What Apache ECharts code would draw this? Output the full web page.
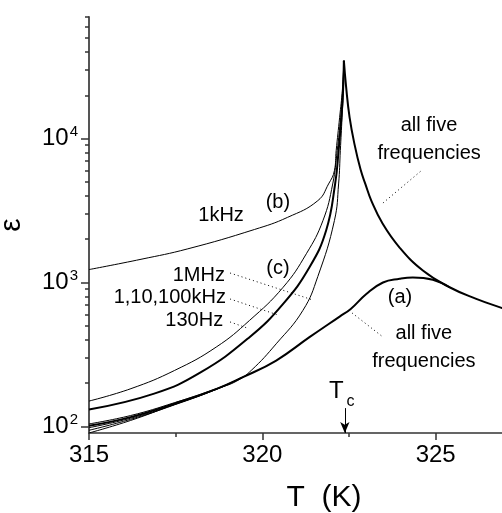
<!DOCTYPE html>
<html>
<head>
<meta charset="utf-8">
<script src="https://cdn.jsdelivr.net/npm/echarts@6/dist/echarts.min.js"></script>
<style>
  html, body { margin: 0; padding: 0; background: #fff; }
  #chart { width: 502px; height: 513px; }
</style>
</head>
<body>
<div id="chart"></div>
<script>
// (a) rising curve, all five frequencies on top of each other
const aTemp = [315, 316.2, 317.46, 318.7, 319.44, 320.4, 321.36, 322.23, 322.55, 323.0, 323.48, 323.96, 324.34, 324.92, 325.4];
const aEps = [101, 116, 144, 183, 220, 287, 417, 580, 655, 832, 1000, 1062, 1085, 1045, 927];
// the (a) strands that split apart at low temperature
const aLowTemp = [315, 316.2, 317.46, 318.7, 319.44];
const aLow1 = [104, 119, 146, 184, 220];
const aLow2 = [98, 114, 142, 182, 220];
const aLow3 = [94, 112, 141, 182, 220];

// (b) 1kHz
const bTemp = [315, 316.5, 317.85, 319.77, 320.73, 321.6, 321.91, 322.08, 322.13, 322.23, 322.31, 322.352];
const bEps = [1230, 1450, 1714, 2335, 2838, 3705, 4840, 6000, 8260, 14060, 22000, 34800];

// (c) 1MHz, 1,10,100kHz, 130Hz
const c1MHzTemp = [315, 316.21, 317.47, 318.67, 319.63, 320.6, 321.27, 321.75, 322.03, 322.16, 322.26, 322.32, 322.352];
const c1MHzEps = [150, 183, 245, 356, 545, 927, 1585, 2700, 4840, 8260, 14060, 22000, 34800];
const cKHzTemp = [315, 316.88, 318.23, 319.63, 320.6, 321.36, 321.84, 322.1, 322.2, 322.28, 322.33, 322.352];
const cKHzEps = [131, 169, 238, 417, 711, 1277, 2297, 4840, 8260, 14060, 22000, 34800];
const c130Temp = [315, 316.2, 317.46, 318.7, 319.25, 319.68, 320.4, 321.17, 321.6, 322.08, 322.2, 322.25, 322.3, 322.34, 322.352];
const c130Eps = [90, 110, 142, 183, 206, 245, 375, 640, 1100, 2700, 4840, 8260, 14060, 22000, 34800];

// above Tc: all five frequencies
const downTemp = [322.352, 322.416, 322.517, 322.661, 322.834, 322.978, 323.143, 323.468, 323.959, 324.631, 325.401, 326.171, 326.9, 327];
const downEps = [34800, 22970, 14060, 9085, 6090, 4793, 3710, 2569, 1750, 1211, 927, 770, 667, 655];

const yMajor = [100, 1000, 10000];
const yMinor = [200, 300, 400, 500, 600, 700, 800, 900,
  2000, 3000, 4000, 5000, 6000, 7000, 8000, 9000,
  20000, 30000, 40000, 50000, 60000, 70000];
const tc = 322.38;

// annotation anchors in data space [T, eps]
const notes = [
  { text: 'all five\nfrequencies', at: [324.81, 9935], align: 'center' },
  { text: '(b)', at: [320.45, 3626], align: 'center' },
  { text: '1kHz', at: [318.81, 2945], align: 'center' },
  { text: '(c)', at: [320.45, 1261], align: 'center' },
  { text: '1MHz', at: [318.92, 1128], align: 'right' },
  { text: '1,10,100kHz', at: [318.95, 781], align: 'right' },
  { text: '130Hz', at: [318.87, 549], align: 'right' },
  { text: '(a)', at: [323.97, 793], align: 'center' },
  { text: 'all five\nfrequencies', at: [324.66, 356], align: 'center' }
];
const leaders = [
  [[323.48, 3568], [324.61, 6052]],
  [[319.07, 1164], [321.46, 756]],
  [[319.07, 768], [320.45, 595]],
  [[319.07, 532], [319.56, 483]],
  [[322.59, 614], [323.48, 418]]
];

const FONT = '"Liberation Sans", Arial, Helvetica, sans-serif';
const zip = (t, v) => t.map((x, i) => [x, v[i]]);

function curve(name, t, v, width) {
  return {
    name: name,
    type: 'line',
    data: zip(t, v),
    showSymbol: false,
    smooth: 0.45,
    lineStyle: { color: '#000', width: width },
    silent: true,
    z: 3
  };
}

const chart = echarts.init(document.getElementById('chart'));

const series = [
  curve('(a)', aTemp, aEps, 2),
  curve('(a) strand 1', aLowTemp, aLow1, 1),
  curve('(a) strand 2', aLowTemp, aLow2, 1),
  curve('(a) strand 3', aLowTemp, aLow3, 1),
  curve('(b) 1kHz', bTemp, bEps, 1),
  curve('(c) 1MHz', c1MHzTemp, c1MHzEps, 1),
  curve('(c) 1,10,100kHz', cKHzTemp, cKHzEps, 2),
  curve('(c) 130Hz', c130Temp, c130Eps, 1),
  curve('above Tc', downTemp, downEps, 2)
];

// dotted leaders and the Tc arrow
series[series.length - 1].markLine = {
  silent: true,
  symbol: ['none', 'none'],
  label: { show: false },
  lineStyle: { color: '#000', width: 1, type: [1, 3] },
  data: leaders.map(p => [{ coord: p[0] }, { coord: p[1] }]).concat([[
    { coord: [tc, 134], symbol: 'none', lineStyle: { type: 'solid', width: 1 } },
    { coord: [tc, 90], symbol: 'arrow', symbolSize: [7, 11] }
  ]])
};

chart.setOption({
  animation: false,
  backgroundColor: '#fff',
  grid: { left: 89, right: -3, top: 17, bottom: 80, outerBoundsMode: 'none' },
  xAxis: {
    type: 'value',
    min: 315,
    max: 327,
    interval: 5,
    name: 'T  (K)',
    nameLocation: 'middle',
    nameGap: 50,
    nameTextStyle: { fontFamily: FONT, fontSize: 30, color: '#000', padding: [0, 0, 0, 54] },
    axisLine: { lineStyle: { color: '#333', width: 1.5 } },
    axisTick: { length: 7, lineStyle: { color: '#333', width: 1.5 } },
    minorTick: { show: true, splitNumber: 2, length: 4, lineStyle: { color: '#333', width: 1.5 } },
    axisLabel: { fontFamily: FONT, fontSize: 24, color: '#000', margin: 10, showMaxLabel: false },
    splitLine: { show: false }
  },
  yAxis: [{
    type: 'log',
    min: 90,
    max: 70000,
    name: 'ε',
    nameLocation: 'middle',
    nameGap: 62,
    nameTextStyle: { fontFamily: FONT, fontSize: 30, color: '#000' },
    axisLine: { lineStyle: { color: '#555', width: 2 } },
    axisTick: { length: 8, customValues: yMajor, lineStyle: { color: '#333', width: 1.5 } },
    axisLabel: {
      customValues: yMajor,
      margin: 11,
      formatter: v => '{b|10}{s|' + Math.round(Math.log10(v)) + '}',
      rich: {
        b: { fontFamily: FONT, fontSize: 24, color: '#000' },
        s: { fontFamily: FONT, fontSize: 15, color: '#000', padding: [0, 0, 14, 1] }
      }
    },
    splitLine: { show: false }
  }, {
    type: 'log',
    min: 90,
    max: 70000,
    position: 'left',
    axisLine: { show: false },
    axisTick: { length: 4, customValues: yMinor, lineStyle: { color: '#333', width: 1.5 } },
    axisLabel: { show: false },
    splitLine: { show: false }
  }],
  series: series
});

// text annotations placed from data coordinates
const px = p => chart.convertToPixel({ xAxisIndex: 0, yAxisIndex: 0 }, p);
const graphics = notes.map(n => {
  const p = px(n.at);
  return {
    type: 'text', x: p[0], y: p[1], silent: true,
    style: {
      text: n.text, fill: '#000', font: '20px ' + FONT,
      align: n.align, verticalAlign: 'middle', lineHeight: 28
    }
  };
});
const tcPos = px([322.29, 174]);
graphics.push({
  type: 'text', x: tcPos[0], y: tcPos[1], silent: true,
  style: {
    text: '{t|T}{c|c}', align: 'center', verticalAlign: 'middle',
    rich: {
      t: { fontFamily: FONT, fontSize: 24, fill: '#000' },
      c: { fontFamily: FONT, fontSize: 16, fill: '#000', padding: [20, 0, 0, 3] }
    }
  }
});
chart.setOption({ graphic: graphics });
</script>
</body>
</html>
